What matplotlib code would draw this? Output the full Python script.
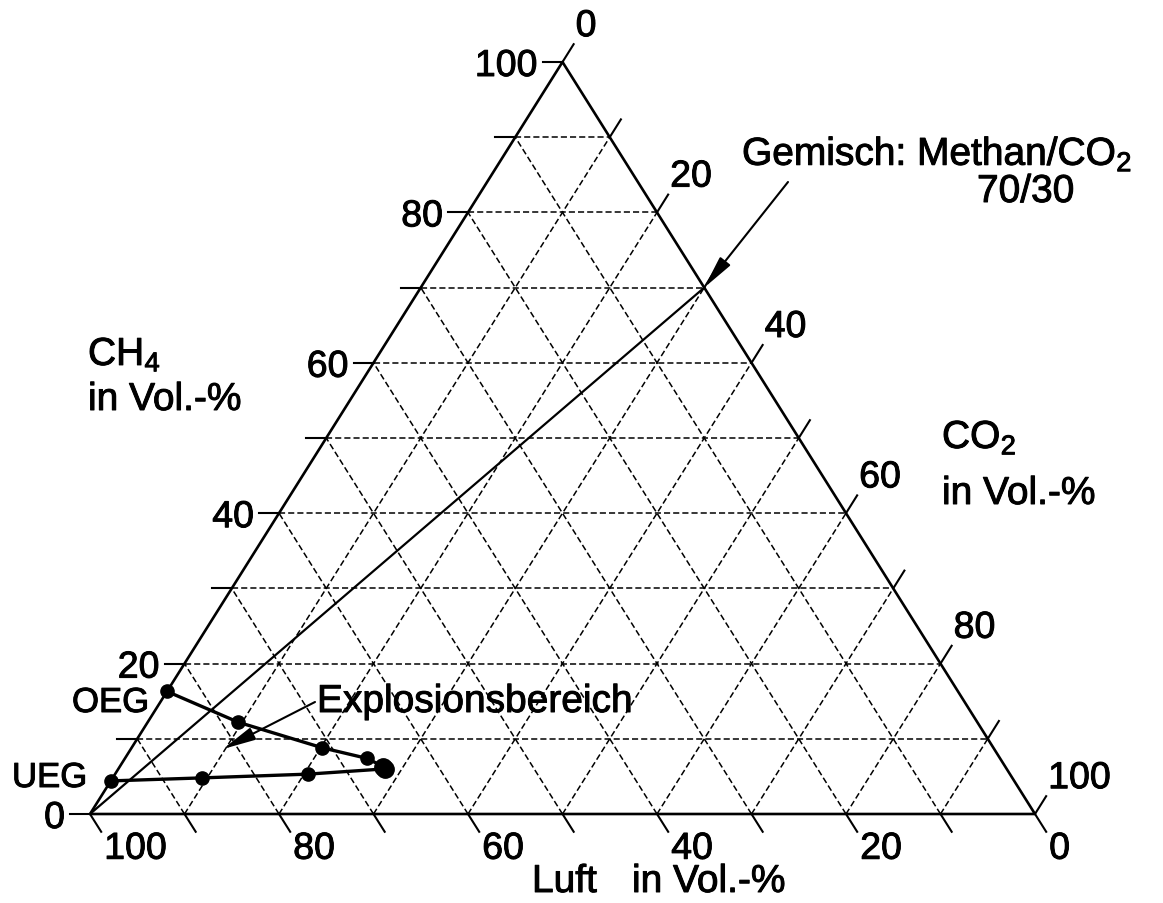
import matplotlib
matplotlib.use("Agg")
import matplotlib.pyplot as plt
import matplotlib.patheffects as pe

plt.rcParams['font.family'] = ['Liberation Sans', 'DejaVu Sans']
plt.rcParams['mathtext.fontset'] = 'custom'
plt.rcParams['mathtext.rm'] = 'Liberation Sans'

# ---------------- data (Vol.-%) ----------------
tick_values = [0, 10, 20, 30, 40, 50, 60, 70, 80, 90, 100]
label_values = [0, 20, 40, 60, 80, 100]

# upper explosion limit branch (OEG) : CH4 / CO2
oeg_ch4 = [16.3, 12.2, 8.8, 7.4, 6.3]
oeg_co2 = [0.0, 9.6, 20.2, 25.6, 27.9]
# lower explosion limit branch (UEG)
ueg_ch4 = [4.4, 4.8, 5.3, 6.0]
ueg_co2 = [0.0, 9.4, 20.4, 28.2]

# mixture line: pure air -> Methan/CO2 70/30
mix_ch4 = [0, 70]
mix_co2 = [0, 30]

# ---------------- geometry helpers ----------------
W, H = 1163, 904
X0, X1, YB = 90, 1035, 815   # pixel positions of triangle baseline
YT = 63                      # pixel y of apex
SX = X1 - X0
SY = YB - YT


def tern(ch4, co2):
    c = ch4 / 100.0
    d = co2 / 100.0
    return d + c / 2.0, c


def px(xp, yp):
    return (xp - X0) / SX, (YB - yp) / SY


def off(xy, dxp, dyp):
    return xy[0] + dxp / SX, xy[1] - dyp / SY


fig = plt.figure(figsize=(W / 100, H / 100), dpi=100)
ax = fig.add_axes([0, 0, 1, 1])
ax.set_xlim(-X0 / SX, (W - X0) / SX)
ax.set_ylim((YB - H) / SY, YB / SY)
ax.axis('off')

stroke = [pe.withStroke(linewidth=0.7, foreground='black')]

grid_kw = dict(color='black', lw=1.1, ls=(0, (4, 2)), zorder=1)
edge_kw = dict(color='black', lw=1.9, solid_capstyle='butt', zorder=2)
tick_kw = dict(color='black', lw=1.5, zorder=2)

# grid lines
for v in tick_values[1:-1]:
    # constant CH4
    a, b = tern(v, 0), tern(v, 100 - v)
    ax.plot([a[0], b[0]], [a[1], b[1]], **grid_kw)
    # constant CO2
    a, b = tern(0, v), tern(100 - v, v)
    ax.plot([a[0], b[0]], [a[1], b[1]], **grid_kw)
    # constant Luft
    a, b = tern(0, 100 - v), tern(100 - v, 0)
    ax.plot([a[0], b[0]], [a[1], b[1]], **grid_kw)

# triangle edges
corners = [tern(0, 0), tern(100, 0), tern(0, 100), tern(0, 0)]
ax.plot([p[0] for p in corners], [p[1] for p in corners], **edge_kw)

# ticks and tick labels
TL = 21
lux, luy = 0.531 * TL, -0.848 * TL   # up-right direction (parallel to left edge)
rdx, rdy = 0.533 * TL, 0.846 * TL    # down-right direction (parallel to right edge)
fs_tick = 27
for v in tick_values:
    # CH4 axis (left edge)
    p = tern(v, 0)
    q = off(p, -20, 0)
    ax.plot([p[0], q[0]], [p[1], q[1]], **tick_kw)
    if v in label_values:
        t = off(q, -5, 0)
        ax.text(t[0], t[1], str(v), ha='right', va='center_baseline', fontsize=fs_tick,
                path_effects=stroke)
    # CO2 axis (right edge)
    p = tern(100 - v, v)
    q = off(p, lux, luy)
    ax.plot([p[0], q[0]], [p[1], q[1]], **tick_kw)
    if v in label_values:
        t = off(q, 2, -8)
        ax.text(t[0], t[1], str(v), ha='left', va='baseline', fontsize=fs_tick,
                path_effects=stroke)
    # Luft axis (bottom edge)
    p = tern(0, 100 - v)
    q = off(p, rdx, rdy)
    ax.plot([p[0], q[0]], [p[1], q[1]], **tick_kw)
    if v in label_values:
        t = off(q, 3, -1)
        ax.text(t[0], t[1], str(v), ha='left', va='top', fontsize=fs_tick,
                path_effects=stroke)

# mixture line
mx = [tern(c, d) for c, d in zip(mix_ch4, mix_co2)]
ax.plot([p[0] for p in mx], [p[1] for p in mx], color='black', lw=1.6, zorder=3)

# explosion range branches
for chs, cos in ((oeg_ch4, oeg_co2), (ueg_ch4, ueg_co2)):
    pts = [tern(c, d) for c, d in zip(chs, cos)]
    xs = [p[0] for p in pts]
    ys = [p[1] for p in pts]
    ax.plot(xs, ys, color='black', lw=2.4, marker='o', ms=9.5, zorder=4)
    ax.plot(xs[-1:], ys[-1:], color='black', marker='o', ms=12.5, ls='none', zorder=4)

# labels
fs_lab = 28


def label(xp, yp, s, fs=fs_lab):
    t = px(xp, yp)
    ax.text(t[0], t[1], s, ha='left', va='baseline', fontsize=fs, path_effects=stroke)


label(88, 366, r'CH$_\mathregular{4}$')
label(88, 411, 'in Vol.-%')
label(942, 449, r'CO$_\mathregular{2}$')
label(942, 505, 'in Vol.-%')
label(532, 893, 'Luft')
label(632, 893, 'in Vol.-%')
label(742, 166, r'Gemisch: Methan/CO$_\mathregular{2}$')
label(977, 203, '70/30')
label(317, 713, 'Explosionsbereich')
label(72, 713, 'OEG', 25)
label(12, 788, 'UEG', 25)

# arrows
arrow_kw = dict(arrowstyle='-|>,head_length=1.0,head_width=0.2', color='black', lw=1.5,
                shrinkA=0, shrinkB=0, mutation_scale=20)
ax.annotate('', xy=tern(mix_ch4[1], mix_co2[1]), xytext=px(788, 183), arrowprops=arrow_kw, zorder=5)
ax.annotate('', xy=px(223, 750), xytext=px(315, 703), arrowprops=arrow_kw, zorder=5)

fig.savefig('out.png', dpi=100, facecolor='white')
